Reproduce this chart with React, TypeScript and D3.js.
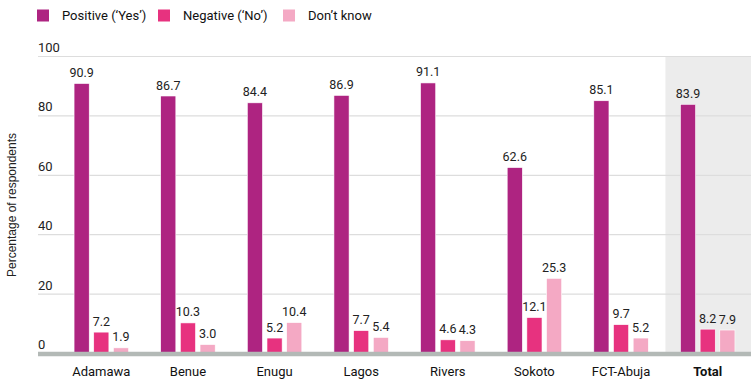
import React from "react";
import * as d3 from "d3";

const categories = ["Adamawa", "Benue", "Enugu", "Lagos", "Rivers", "Sokoto", "FCT-Abuja", "Total"];
const seriesNames = ["Positive (\u2018Yes\u2019)", "Negative (\u2018No\u2019)", "Don\u2019t know"];
const positive = [90.9, 86.7, 84.4, 86.9, 91.1, 62.6, 85.1, 83.9];
const negative = [7.2, 10.3, 5.2, 7.7, 4.6, 12.1, 9.7, 8.2];
const dontKnow = [1.9, 3.0, 10.4, 5.4, 4.3, 25.3, 5.2, 7.9];
const yTicks = [0, 20, 40, 60, 80, 100];
const colors = ["#ae2481", "#e7327f", "#f4a9c4"];

const W = 755;
const H = 389;

export default function App() {
  const series = [positive, negative, dontKnow];
  const GW = 54.5;
  const x0 = d3.scaleBand<string>().domain(categories).range([58, 751]).paddingInner(0).paddingOuter(0);
  const x1 = d3.scaleBand<number>().domain([0, 1, 2]).range([0, GW]).paddingInner(0.23);
  const y = d3.scaleLinear().domain([0, 100]).range([353.5, 56.5]);
  const groupOffset = (x0.bandwidth() - GW) / 2;
  const font = "Roboto, 'Liberation Sans', Arial, sans-serif";

  const totalX = (x0("Total") as number) + groupOffset - 15;

  return (
    <svg width={W} height={H} style={{ position: "absolute", left: 0, top: 0 }} fontFamily={font}>
      <rect x={0} y={0} width={W} height={H} fill="#fff" />
      {/* Total background */}
      <rect x={totalX} y={y(100)} width={W - 4 - totalX} height={y(0) - y(100)} fill="#ececec" />
      {/* gridlines */}
      {yTicks.map((t) => (
        <g key={t}>
          {t > 0 && <line x1={38} x2={751} y1={y(t)} y2={y(t)} stroke="#dddddd" strokeWidth={1.2} />}
          <text x={38} y={y(t) - 4.5} fontSize={13} fill="#222">{t}</text>
        </g>
      ))}
      {/* bars */}
      {categories.map((c, i) => (
        <g key={c} transform={`translate(${(x0(c) as number) + groupOffset},0)`}>
          {series.map((s, j) => {
            const bx = x1(j) as number;
            const bw = x1.bandwidth();
            return (
              <g key={j}>
                <rect x={bx} y={y(s[i])} width={bw} height={y(0) - y(s[i])} fill={colors[j]} stroke="#fff" strokeWidth={0.6} />
                <text x={bx + bw / 2} y={y(s[i]) - 6.5} textAnchor="middle" fontSize={12.5} fill="#222">
                  {s[i].toFixed(1)}
                </text>
              </g>
            );
          })}
          <text x={GW / 2} y={376} textAnchor="middle" fontSize={13} fill="#111" fontWeight={c === "Total" ? "bold" : "normal"}>
            {c}
          </text>
        </g>
      ))}
      {/* baseline */}
      <line x1={38} x2={751} y1={354} y2={354} stroke="#b3b9b6" strokeWidth={4.5} />
      {/* y axis label */}
      <text transform={`translate(16,205) rotate(-90)`} textAnchor="middle" fontSize={12} fill="#222" fontFamily="'Liberation Sans', Arial, sans-serif">
        Percentage of respondents
      </text>
      {/* legend */}
      {seriesNames.map((n, j) => {
        const lx = [37, 158, 283][j];
        return (
          <g key={n}>
            <rect x={lx} y={9.5} width={12} height={12} fill={colors[j]} />
            <text x={lx + 25} y={19.5} fontSize={13} fill="#111">{n}</text>
          </g>
        );
      })}
    </svg>
  );
}
